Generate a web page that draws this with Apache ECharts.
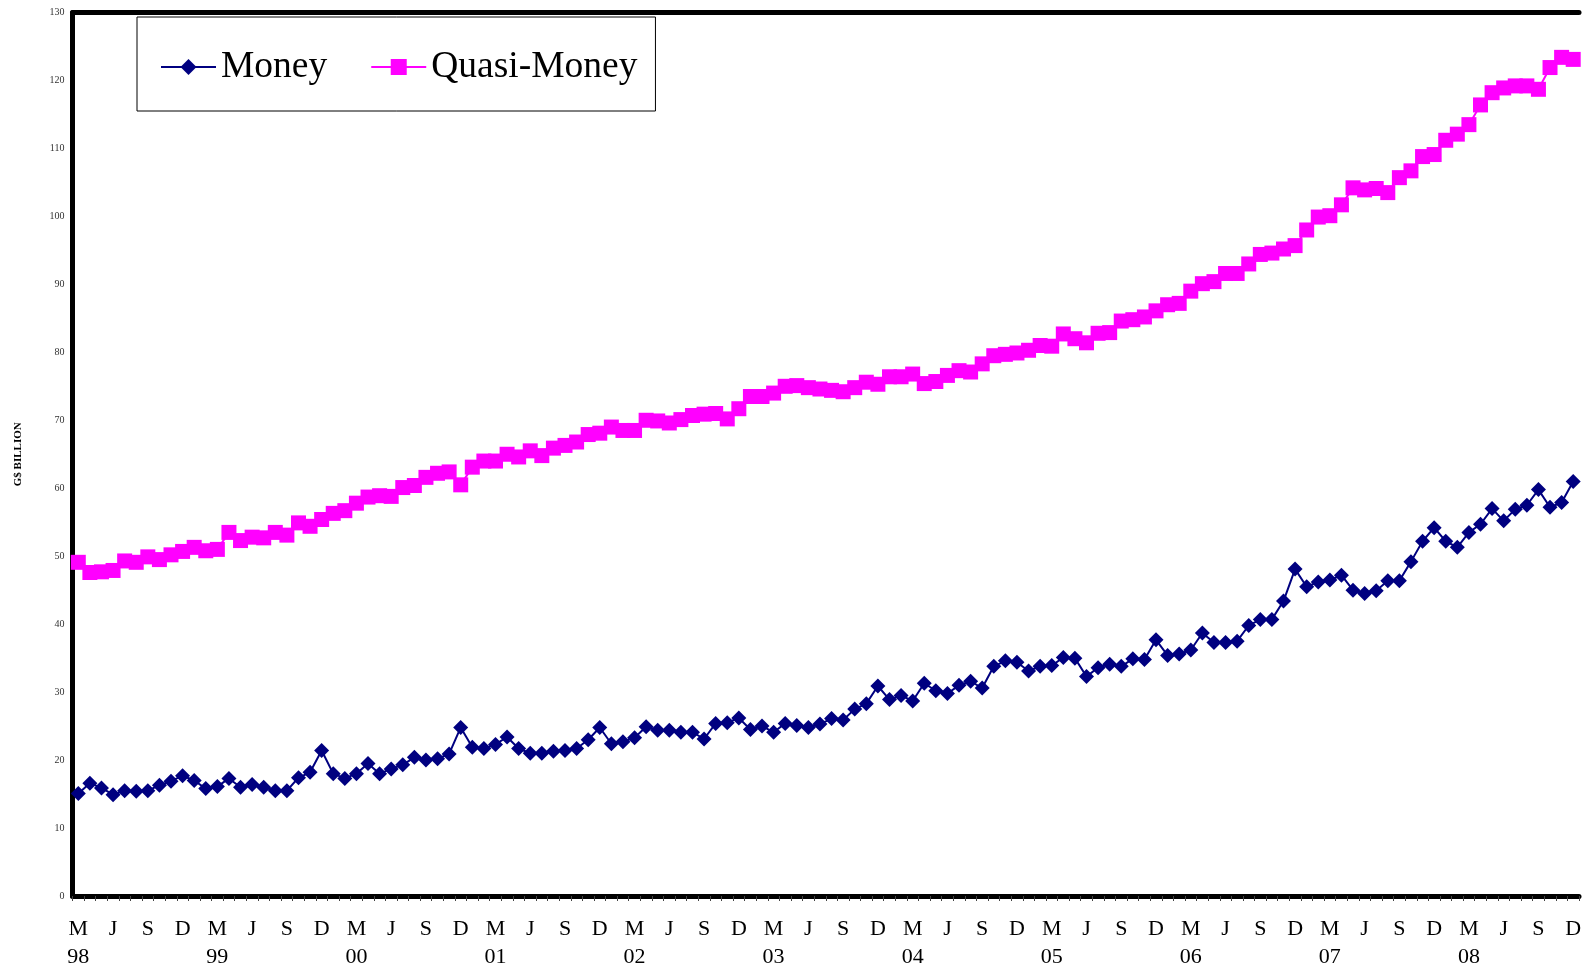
<!DOCTYPE html>
<html>
<head>
<meta charset="utf-8">
<script src="https://cdn.jsdelivr.net/npm/echarts@6/dist/echarts.min.js"></script>
<style>
html,body{margin:0;padding:0;background:#fff;}
#chart{width:1585px;height:972px;}
</style>
</head>
<body>
<div id="chart"></div>
<script>
// Monthly observations, March 1998 to December 2008
const startYear = 1998, startMonth = 3, nMonths = 130;
const monthLetters = {3: 'M', 6: 'J', 9: 'S', 12: 'D'};
const yTicks = {min: 0, max: 130, interval: 10};
const seriesNames = ['Money', 'Quasi-Money'];

const money = [
  15.1,16.6,15.9,14.9,15.5,15.4,15.5,16.3,16.9,17.7,
  17.0,15.8,16.1,17.3,16.0,16.4,16.0,15.5,15.5,17.4,
  18.2,21.4,18.0,17.3,18.0,19.5,18.0,18.7,19.3,20.4,
  20.0,20.2,20.9,24.8,21.9,21.7,22.3,23.4,21.7,21.0,
  21.0,21.3,21.4,21.7,23.0,24.8,22.4,22.7,23.3,24.9,
  24.4,24.4,24.1,24.1,23.1,25.4,25.5,26.2,24.5,25.0,
  24.1,25.4,25.1,24.8,25.3,26.1,25.9,27.5,28.3,30.9,
  28.9,29.5,28.7,31.3,30.2,29.8,31.0,31.6,30.6,33.8,
  34.6,34.4,33.1,33.8,33.9,35.1,35.0,32.3,33.6,34.1,
  33.8,34.9,34.8,37.7,35.4,35.6,36.2,38.7,37.3,37.3,
  37.5,39.8,40.7,40.7,43.4,48.1,45.5,46.2,46.5,47.2,
  45.0,44.5,44.9,46.4,46.4,49.2,52.2,54.2,52.2,51.3,
  53.5,54.7,57.0,55.2,56.9,57.5,59.8,57.2,57.9,61.0
];

const quasiMoney = [
  49.1,47.6,47.7,47.9,49.3,49.1,49.9,49.5,50.2,50.7,
  51.3,50.8,51.0,53.5,52.3,52.8,52.7,53.5,53.1,54.9,
  54.4,55.4,56.3,56.7,57.8,58.7,58.9,58.8,60.1,60.4,
  61.6,62.2,62.4,60.5,63.1,64.0,64.0,65.0,64.6,65.5,
  64.8,65.9,66.3,66.8,67.9,68.1,69.0,68.5,68.5,70.0,
  69.9,69.6,70.1,70.7,70.9,71.0,70.2,71.7,73.5,73.5,
  74.0,75.0,75.1,74.8,74.6,74.4,74.2,74.8,75.6,75.3,
  76.4,76.4,76.8,75.4,75.7,76.6,77.3,77.1,78.3,79.5,
  79.7,79.9,80.3,81.0,80.9,82.7,82.0,81.4,82.8,82.9,
  84.6,84.8,85.2,86.1,87.0,87.2,89.0,90.1,90.4,91.6,
  91.6,93.0,94.4,94.6,95.2,95.7,98.0,99.9,100.1,101.7,
  104.2,103.9,104.1,103.5,105.7,106.7,108.8,109.1,111.2,112.1,
  113.5,116.4,118.2,118.9,119.2,119.2,118.7,121.9,123.4,123.1
];

const categories = [];
for (let k = 0; k < nMonths; k++) {
  const m = (startMonth - 1 + k) % 12 + 1;
  const y = startYear + Math.floor((startMonth - 1 + k) / 12);
  categories.push(y + '-' + (m < 10 ? '0' + m : m));
}

const serif = '"Liberation Serif","Times New Roman",serif';

const chart = echarts.init(document.getElementById('chart'), null, {renderer: 'canvas'});
chart.setOption({
  animation: false,
  backgroundColor: '#ffffff',
  grid: {left: 72.5, right: 6, top: 12.5, bottom: 76, containLabel: false},
  legend: {
    left: 137, top: 17,
    data: seriesNames,
    orient: 'horizontal',
    backgroundColor: '#fff',
    borderColor: '#000',
    borderWidth: 1,
    borderRadius: 0,
    padding: [28, 18, 22, 23],
    itemGap: 43,
    itemWidth: 55,
    itemHeight: 20,
    textStyle: {fontFamily: serif, fontSize: 37.5, color: '#000', lineHeight: 44}
  },
  xAxis: [{
    type: 'category',
    data: categories,
    position: 'bottom',
    boundaryGap: true,
    axisLine: {show: true, lineStyle: {color: '#000', width: 5}},
    axisTick: {show: true, interval: 0, length: 5, inside: false, lineStyle: {color: '#444', width: 1}},
    axisLabel: {
      interval: 2,
      margin: 19,
      fontFamily: serif,
      fontSize: 22,
      lineHeight: 28,
      color: '#000',
      formatter: function (v) {
        const parts = v.split('-');
        const m = parseInt(parts[1], 10);
        const letter = monthLetters[m] || '';
        if (m === 3) return letter + '\n' + parts[0].slice(2);
        return letter;
      }
    },
    splitLine: {show: false}
  }, {
    type: 'category',
    data: categories,
    position: 'top',
    axisLine: {show: true, lineStyle: {color: '#000', width: 5}},
    axisTick: {show: false},
    axisLabel: {show: false},
    splitLine: {show: false}
  }],
  yAxis: {
    type: 'value',
    min: yTicks.min, max: yTicks.max, interval: yTicks.interval,
    name: 'G$ BILLION',
    nameLocation: 'middle',
    nameRotate: 90,
    nameGap: 49,
    nameTextStyle: {fontFamily: serif, fontSize: 11, fontWeight: 'bold', color: '#000'},
    axisLine: {show: true, lineStyle: {color: '#000', width: 5}},
    axisTick: {show: false},
    axisLabel: {fontFamily: serif, fontSize: 10, color: '#333', margin: 8},
    splitLine: {show: false}
  },
  series: [{
    name: seriesNames[0],
    type: 'line',
    xAxisIndex: 0,
    data: money,
    symbol: 'diamond',
    symbolSize: 15,
    showAllSymbol: true,
    color: '#000080',
    itemStyle: {color: '#000080'},
    lineStyle: {color: '#000080', width: 2}
  }, {
    name: seriesNames[1],
    type: 'line',
    xAxisIndex: 0,
    data: quasiMoney,
    symbol: 'rect',
    symbolSize: 15,
    showAllSymbol: true,
    color: '#FF00FF',
    itemStyle: {color: '#FF00FF'},
    lineStyle: {color: '#FF00FF', width: 2}
  }]
});
</script>
</body>
</html>
